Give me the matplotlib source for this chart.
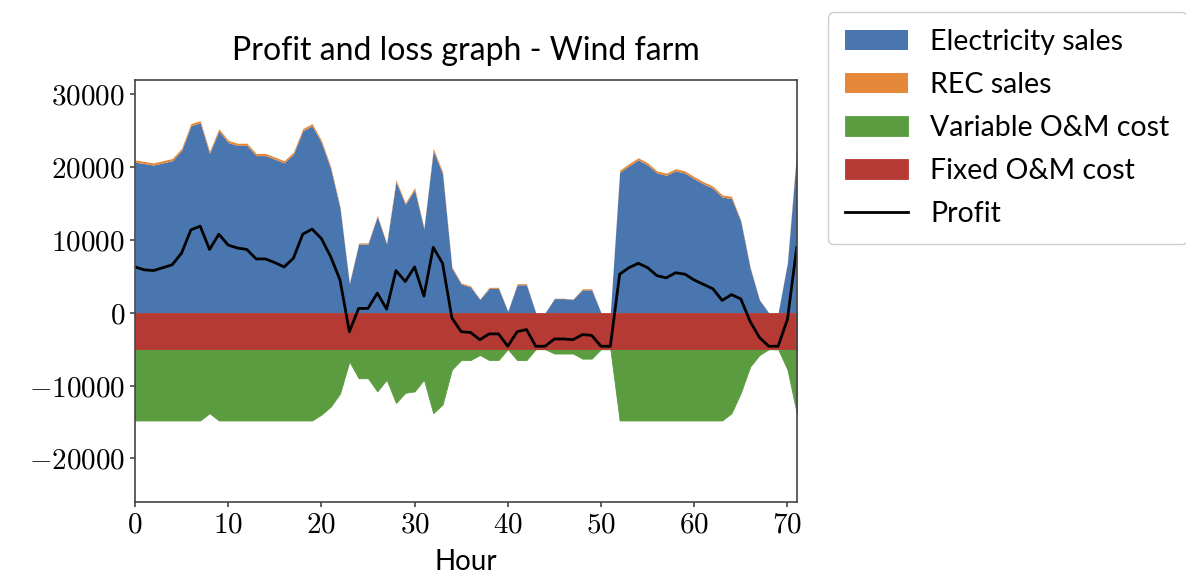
import numpy as np
import matplotlib
matplotlib.use("Agg")
from matplotlib import pyplot as plt
from matplotlib.ticker import FuncFormatter

plt.rcParams['font.family'] = ['Lato', 'DejaVu Sans']
plt.rcParams['mathtext.fontset'] = 'cm'

hours = np.arange(72)

# values
elec_sales = [20700, 20500, 20300, 20600, 20900, 22300, 25700, 26100, 21900, 25000,
              23400, 23000, 23000, 21600, 21600, 21100, 20600, 21800, 25000, 25700,
              23400, 19800, 14400, 4000, 9450, 9450, 13250, 9450, 18000, 14900,
              16900, 11550, 22300, 19100, 6150, 3950, 3550, 1850, 3350, 3350,
              200, 3850, 3850, 0, 0, 1950, 1950, 1850, 3150, 3150,
              0, 0, 19300, 20200, 21000, 20300, 19200, 18900, 19500, 19200,
              18400, 17700, 17100, 15900, 15700, 12550, 6150, 1750, 0, 0,
              6850, 22200]
rec_sales = [300, 300, 300, 300, 300, 300, 300, 300, 300, 300,
             300, 300, 300, 300, 300, 300, 300, 300, 300, 300,
             300, 300, 200, 100, 150, 150, 150, 150, 300, 200,
             300, 150, 300, 300, 150, 150, 150, 50, 150, 150,
             0, 150, 150, 0, 0, 50, 50, 50, 150, 150,
             0, 0, 300, 300, 300, 300, 300, 300, 300, 300,
             300, 300, 300, 300, 300, 150, 150, 50, 0, 0,
             150, 300]
fixed_cost = [-5000] * 72
variable_cost = [-9800, -9800, -9800, -9800, -9800, -9800, -9800, -9800, -8800, -9800,
                 -9800, -9800, -9800, -9800, -9800, -9800, -9800, -9800, -9800, -9800,
                 -9000, -7900, -6100, -1700, -4000, -4000, -5800, -4200, -7400, -6000,
                 -5800, -4200, -8800, -7600, -2800, -1500, -1500, -800, -1500, -1500,
                 0, -1500, -1500, 0, 0, -600, -600, -600, -1300, -1300,
                 0, 0, -9800, -9800, -9800, -9800, -9800, -9800, -9800, -9800,
                 -9800, -9800, -9800, -9800, -8800, -6000, -2400, -800, 0, 0,
                 -2800, -8800]
profit = [6300, 5900, 5800, 6200, 6600, 8200, 11400, 11900, 8700, 10800,
          9300, 8900, 8700, 7400, 7400, 6900, 6300, 7500, 10800, 11500,
          10200, 7700, 4500, -2600, 600, 600, 2700, 500, 5800, 4300,
          6300, 2300, 9000, 6800, -700, -2600, -2700, -3700, -2900, -2900,
          -4600, -2600, -2300, -4600, -4600, -3600, -3600, -3700, -3000, -3100,
          -4600, -4600, 5300, 6200, 6800, 6200, 5100, 4800, 5500, 5300,
          4500, 3900, 3300, 1700, 2500, 1900, -1200, -3400, -4600, -4600,
          -900, 9000]

elec = np.array(elec_sales)
rec = np.array(rec_sales)
fixed = np.array(fixed_cost)
var = np.array(variable_cost)

fig = plt.figure(figsize=(11.86, 5.79), dpi=100)
ax = fig.add_axes([0.1138, 0.133, 0.558, 0.729])

ax.fill_between(hours, 0, elec, color="#4a76b0", lw=0, label="Electricity sales")
ax.fill_between(hours, elec, elec + rec, color="#e6883a", lw=0, label="REC sales")
ax.fill_between(hours, fixed, fixed + var, facecolor="#5c9c40", edgecolor="#5c9c40",
                lw=0.6, label="Variable O&M cost")
ax.fill_between(hours, 0, fixed, facecolor="#b53a33", edgecolor="#b53a33",
                lw=0.6, label="Fixed O&M cost")
ax.plot(hours, profit, color="black", lw=2, label="Profit")

ax.set_xlim(0, 71)
ax.set_ylim(-26000, 32000)
ax.set_xticks(range(0, 71, 10))
ax.set_yticks(range(-20000, 30001, 10000))
ax.xaxis.set_major_formatter(FuncFormatter(lambda v, p: "$%d$" % v))
ax.yaxis.set_major_formatter(FuncFormatter(lambda v, p: "$%d$" % v))
ax.tick_params(labelsize=21, color="#444444", width=1.2)
for s in ax.spines.values():
    s.set_color("#444444")
    s.set_linewidth(1.2)

ax.set_title("Profit and loss graph - Wind farm", fontsize=23, pad=14)
ax.set_xlabel("Hour", fontsize=20, labelpad=8)

fig.legend(loc="upper left", bbox_to_anchor=(828 / 1186, 1 - 12 / 579),
           borderaxespad=0, borderpad=0.6, fontsize=20.5, handlelength=2.2,
           labelspacing=0.6, framealpha=1, edgecolor="#cccccc", fancybox=True)

plt.savefig("out.png", dpi=100)
